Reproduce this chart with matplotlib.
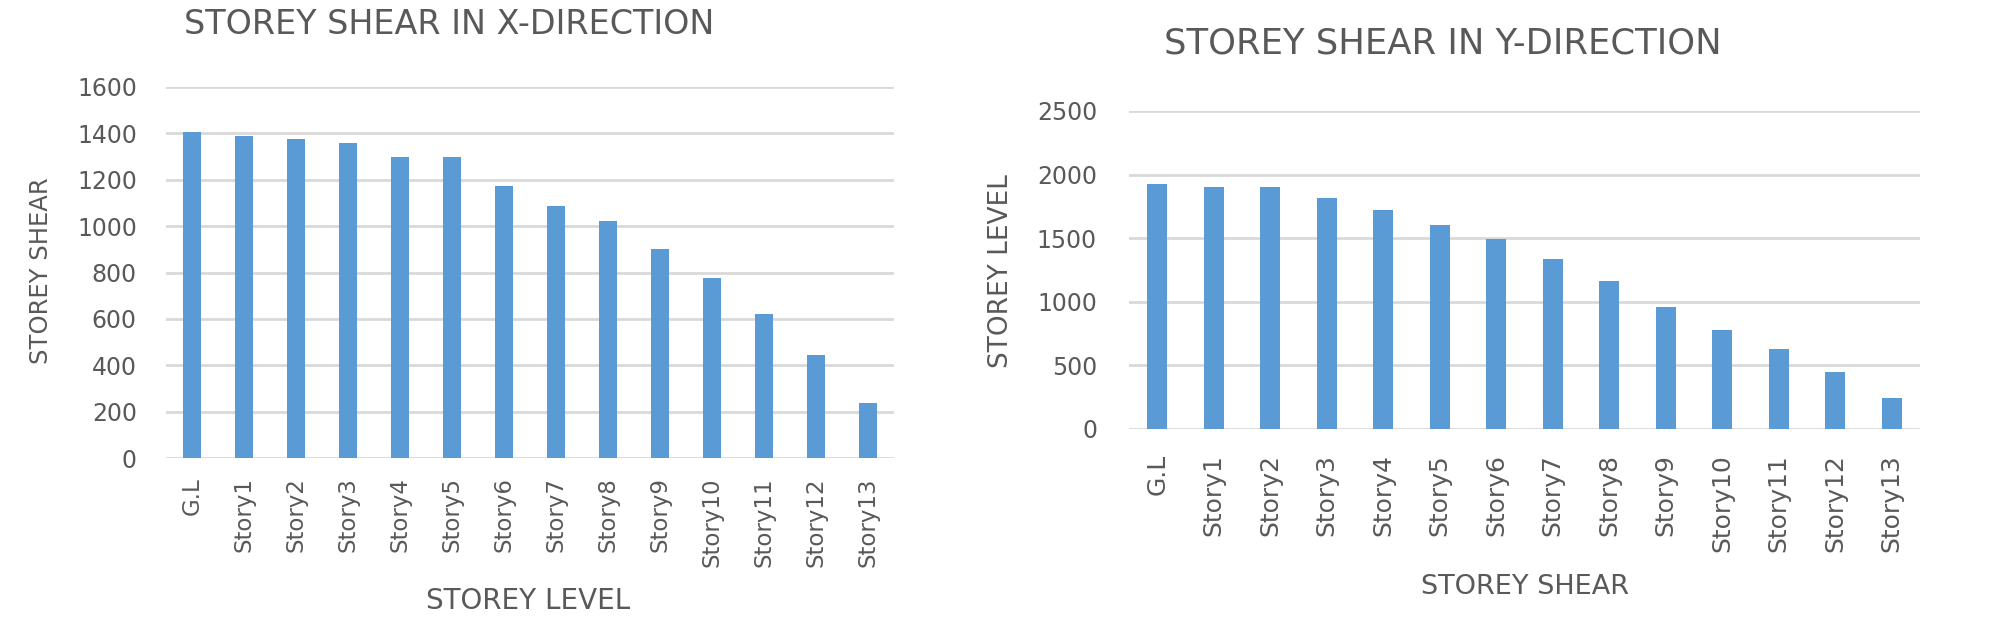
import numpy as np
import matplotlib
matplotlib.use("Agg")
import matplotlib.pyplot as plt

plt.rcParams['font.family'] = ['DejaVu Sans']

levels = ['G.L', 'Story1', 'Story2', 'Story3', 'Story4', 'Story5', 'Story6',
          'Story7', 'Story8', 'Story9', 'Story10', 'Story11', 'Story12', 'Story13']

# storey shear values
shear_x = [1405, 1390, 1375, 1360, 1300, 1300, 1175, 1085, 1020, 900, 775, 620, 445, 238]
shear_y = [1930, 1900, 1900, 1815, 1720, 1605, 1490, 1340, 1160, 960, 780, 630, 450, 240]

yticks_x = [0, 200, 400, 600, 800, 1000, 1200, 1400, 1600]
yticks_y = [0, 500, 1000, 1500, 2000, 2500]

bar_col = '#5B9BD5'
txt_col = '#595959'
grid_col = '#D9D9D9'

W, H = 1991, 640
fig = plt.figure(figsize=(W / 100, H / 100), dpi=100)


def box(x0, x1, ytop, ybot):
    return [x0 / W, 1 - ybot / H, (x1 - x0) / W, (ybot - ytop) / H]


def style(ax, vals, ticks, ypad, xpad, xsize, ysize):
    x = np.arange(len(levels))
    ax.bar(x, vals, width=0.35, color=bar_col, zorder=3)
    ax.set_xlim(-0.5, len(levels) - 0.5)
    ax.set_ylim(ticks[0], ticks[-1])
    ax.set_yticks(ticks)
    ax.set_yticklabels([str(t) for t in ticks])
    ax.set_xticks(x)
    ax.set_xticklabels(levels, rotation=90)
    for s in ax.spines.values():
        s.set_visible(False)
    ax.yaxis.grid(True, color=grid_col, linewidth=2, zorder=0)
    ax.tick_params(axis='both', length=0, colors=txt_col)
    ax.tick_params(axis='y', pad=ypad, labelsize=ysize)
    ax.tick_params(axis='x', pad=xpad, labelsize=xsize)


ax1 = fig.add_axes(box(166, 894, 87, 458))
style(ax1, shear_x, yticks_x, 21, 14, 16.5, 17)

ax2 = fig.add_axes(box(1129, 1920, 111, 429))
style(ax2, shear_y, yticks_y, 23, 18, 18, 17)

# titles and axis labels
fig.text(449 / W, 1 - 24 / H, 'STOREY SHEAR IN X-DIRECTION', ha='center', va='center',
         fontsize=24, color=txt_col)
fig.text(1443 / W, 1 - 43 / H, 'STOREY SHEAR IN Y-DIRECTION', ha='center', va='center',
         fontsize=25.5, color=txt_col)
fig.text(41 / W, 1 - 271 / H, 'STOREY SHEAR', rotation=90, ha='center', va='center',
         fontsize=17.5, color=txt_col)
fig.text(1001 / W, 1 - 271 / H, 'STOREY LEVEL', rotation=90, ha='center', va='center',
         fontsize=19, color=txt_col)
fig.text(528 / W, 1 - 601 / H, 'STOREY LEVEL', ha='center', va='center',
         fontsize=20, color=txt_col)
fig.text(1525 / W, 1 - 587 / H, 'STOREY SHEAR', ha='center', va='center',
         fontsize=19.5, color=txt_col)

fig.savefig('out.png', dpi=100, facecolor='white')
